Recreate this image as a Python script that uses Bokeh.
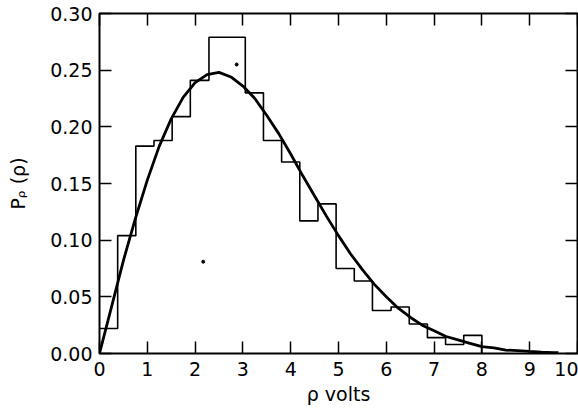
from bokeh.plotting import figure
from bokeh.models import LinearAxis, FixedTicker, NumeralTickFormatter, Range1d
from bokeh.embed import file_html
from bokeh.resources import INLINE

# Histogram: bin edges (volts) and measured probability heights
bin_edges = [0.00, 0.38, 0.76, 1.14, 1.52, 1.90, 2.29, 2.67, 3.05, 3.43, 3.81,
             4.19, 4.57, 4.95, 5.33, 5.71, 6.10, 6.48, 6.86, 7.24, 7.62, 8.00]
bin_heights = [0.022, 0.104, 0.183, 0.188, 0.209, 0.241, 0.279, 0.279, 0.230, 0.188,
               0.169, 0.117, 0.132, 0.075, 0.064, 0.038, 0.041, 0.026, 0.014, 0.008, 0.016]

# Fitted density curve
curve_x = [0.0, 0.25, 0.5, 0.75, 1.0, 1.25, 1.5, 1.75, 2.0, 2.25, 2.5, 2.75, 3.0,
           3.25, 3.5, 3.75, 4.0, 4.25, 4.5, 4.75, 5.0, 5.25, 5.5, 5.75, 6.0,
           6.25, 6.5, 6.75, 7.0, 7.25, 7.5, 7.75, 8.0, 8.25, 8.5, 8.75, 9.0,
           9.25, 9.5, 9.6]
curve_y = [0.0, 0.041, 0.082, 0.119, 0.153, 0.183, 0.207, 0.226, 0.239, 0.246,
           0.248, 0.244, 0.236, 0.225, 0.210, 0.194, 0.176, 0.157, 0.139, 0.121,
           0.104, 0.088, 0.074, 0.061, 0.050, 0.040, 0.032, 0.025, 0.020, 0.015,
           0.012, 0.009, 0.006, 0.005, 0.003, 0.0025, 0.0018, 0.0012, 0.0008, 0.0007]

# stray specks in the original scan
speck_x = [2.87, 2.17]
speck_y = [0.255, 0.081]

x_ticks = [0, 1, 2, 3, 4, 5, 6, 7, 8, 9, 10]
y_ticks = [0.0, 0.05, 0.1, 0.15, 0.2, 0.25, 0.3]
x_title = "\u03c1 volts"
y_title = "P\u1d68 (\u03c1)"

FONT = "DejaVu Sans"

p = figure(width=578, height=410, output_backend="svg", toolbar_location=None,
           x_range=Range1d(0, 10.0), y_range=Range1d(0, 0.30),
           min_border_left=99, min_border_right=1, min_border_top=13, min_border_bottom=57,
           x_axis_location=None, y_axis_location=None)
p.background_fill_color = "white"
p.border_fill_color = "white"
p.grid.visible = False
p.outline_line_color = "black"
p.outline_line_width = 2

def style(ax, labels=True):
    ax.axis_line_color = None
    ax.major_tick_in = 12
    ax.major_tick_out = 0
    ax.major_tick_line_width = 1.5
    ax.major_tick_line_color = "black"
    ax.minor_tick_line_color = None
    if labels:
        ax.major_label_text_font = FONT
        ax.major_label_text_font_size = "19px"
        ax.major_label_text_color = "black"
        ax.major_label_standoff = 7
        ax.axis_label_text_font = FONT
        ax.axis_label_text_font_size = "19px"
        ax.axis_label_text_font_style = "normal"
        ax.axis_label_text_color = "black"
    else:
        ax.major_label_text_color = None
        ax.major_label_text_font_size = "1px"
        ax.major_label_standoff = 0

bottom = LinearAxis(ticker=FixedTicker(ticks=x_ticks), axis_label=x_title)
style(bottom)
bottom.major_label_standoff = 8
bottom.axis_label_standoff = 4
left = LinearAxis(ticker=FixedTicker(ticks=y_ticks), formatter=NumeralTickFormatter(format="0.00"),
                  axis_label=y_title)
style(left)
left.axis_label_standoff = 18
top = LinearAxis(ticker=FixedTicker(ticks=x_ticks))
style(top, labels=False)
right = LinearAxis(ticker=FixedTicker(ticks=y_ticks))
style(right, labels=False)
p.add_layout(bottom, "below")
p.add_layout(left, "left")
p.add_layout(top, "above")
p.add_layout(right, "right")

# histogram as a step outline
step_y = bin_heights + [0.0]
p.step(bin_edges, step_y, mode="after", line_color="black", line_width=1.6)

# fitted curve
p.line(curve_x, curve_y, line_color="black", line_width=2.8)

p.scatter(speck_x, speck_y, size=3, color="black")

open("out.html", "w").write(file_html(p, INLINE))
